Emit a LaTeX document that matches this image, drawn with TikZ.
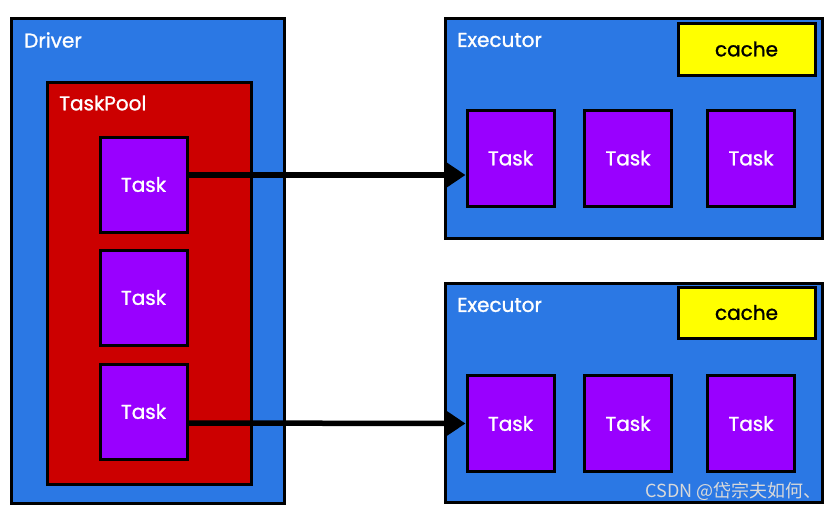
\documentclass[tikz,border=0pt]{standalone}
\usepackage{fontspec}
\setmainfont{Poppins}
\newfontfamily\labelfont{Poppins}[FakeBold=1.2]
\newfontfamily\cjkfont{Noto Sans CJK SC}
\usetikzlibrary{positioning,arrows.meta}

\definecolor{drvblue}{HTML}{2B78E4}
\definecolor{poolred}{HTML}{CC0000}
\definecolor{taskpurple}{HTML}{9900FF}
\definecolor{cacheyellow}{HTML}{FFFF00}

\tikzset{
  box/.style={draw=black, line width=3pt, rectangle, inner sep=0pt},
  bigbox/.style={box, fill=drvblue},
  poolbox/.style={box, fill=poolred},
  taskbox/.style={box, fill=taskpurple, minimum width=87pt, minimum height=95pt,
    text=white, font=\labelfont\fontsize{20}{24}\selectfont},
  cachebox/.style={box, fill=cacheyellow, minimum width=137pt, minimum height=52pt,
    font=\labelfont\fontsize{20}{24}\selectfont},
  title/.style={anchor=west, text=white, inner sep=0pt, font=\labelfont\fontsize{20}{24}\selectfont},
  conn/.style={line width=5.5pt, -{Triangle[length=19pt,width=24pt]}}
}

\begin{document}
\begin{tikzpicture}[x=1pt,y=-1pt]
  \useasboundingbox (0,0) rectangle (838,512);

  % Driver side
  \node [bigbox, minimum width=273pt, minimum height=485pt] (driver) at (147.5,260.5) {};
  \node [title] (driverlbl) at (24,40) {Driver};
  \node [poolbox, minimum width=204pt, minimum height=402pt] (pool) at (149,283) {};
  \node [title] (poollbl) at (59,103) {TaskPool};
  \node [taskbox] (dt1) at (143.5,184.5) {Task};
  \node [taskbox] (dt2) at (143.5,297.5) {Task};
  \node [taskbox] (dt3) at (143.5,411.5) {Task};

  % Executors
  \node [bigbox, minimum width=377pt, minimum height=220pt] (exa) at (633.5,128) {};
  \node [title] (exalbl) at (457,40) {Executor};
  \node [cachebox] (cachea) at (746.5,49) {cache};
  \node [taskbox, minimum height=96pt] (ea1) at (510.5,158) {Task};
  \node [taskbox, minimum height=96pt] (ea2) at (628,158) {Task};
  \node [taskbox, minimum height=96pt] (ea3) at (751,158) {Task};

  \node [bigbox, minimum width=377pt, minimum height=219pt] (exb) at (633.5,392.5) {};
  \node [title] (exblbl) at (457,305) {Executor};
  \node [cachebox, minimum height=51pt] (cacheb) at (746.5,312.5) {cache};
  \node [taskbox, minimum height=96pt] (eb1) at (510.5,423.5) {Task};
  \node [taskbox, minimum height=96pt] (eb2) at (628,423.5) {Task};
  \node [taskbox, minimum height=96pt] (eb3) at (751,423.5) {Task};

  % tasks sent to executors
  \draw [conn] ([yshift=9.5pt]dt1.east) -- ([yshift=-17pt]ea1.west);
  \draw [conn] ([yshift=-11.5pt]dt3.east) -- (eb1.west);

  \node [anchor=east, text=white!85!black, inner sep=0pt, font=\cjkfont\fontsize{18}{21}\selectfont]
    (mark) at (822,491) {CSDN @岱宗夫如何、};
\end{tikzpicture}
\end{document}
